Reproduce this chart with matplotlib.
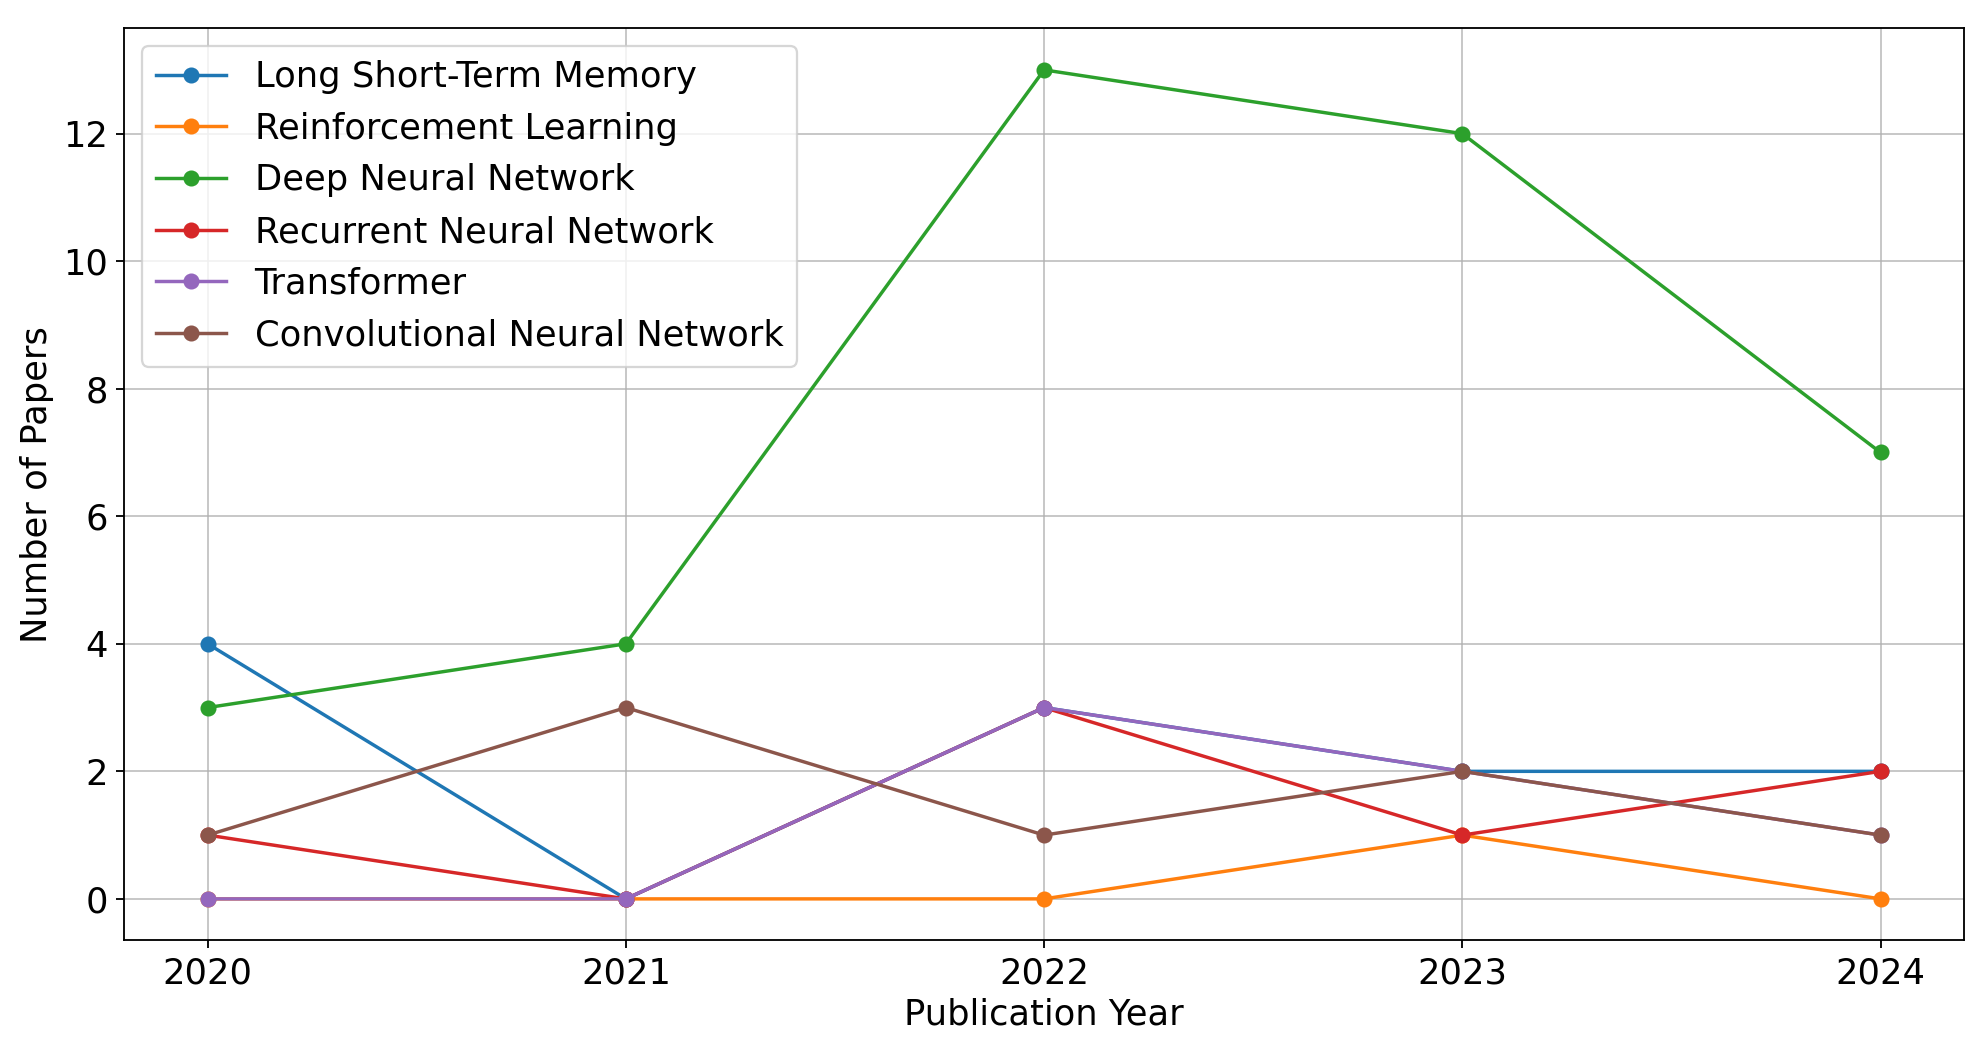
import matplotlib
matplotlib.use("Agg")
import matplotlib.pyplot as plt

years = [2020, 2021, 2022, 2023, 2024]

series_names = [
    "Long Short-Term Memory",
    "Reinforcement Learning",
    "Deep Neural Network",
    "Recurrent Neural Network",
    "Transformer",
    "Convolutional Neural Network",
]
lstm = [4, 0, 3, 2, 2]
rl = [0, 0, 0, 1, 0]
dnn = [3, 4, 13, 12, 7]
rnn = [1, 0, 3, 1, 2]
transformer = [0, 0, 3, 2, 1]
cnn = [1, 3, 1, 2, 1]


def main() -> None:
    plt.rcParams["font.size"] = 15.4
    fig = plt.figure(figsize=(1984 / 165, 1053 / 165), dpi=165)
    ax = fig.add_axes([0.0625, 0.107, 0.9275, 0.866])

    for name, vals in zip(series_names, [lstm, rl, dnn, rnn, transformer, cnn]):
        ax.plot(years, vals, marker="o", label=name)

    ax.set_xticks(years)
    ax.set_xlabel("Publication Year", labelpad=3)
    ax.set_ylabel("Number of Papers")
    ax.grid(True, alpha=0.75)
    ax.legend(loc="upper left")

    fig.savefig("out.png", dpi=165)


if __name__ == "__main__":
    main()
